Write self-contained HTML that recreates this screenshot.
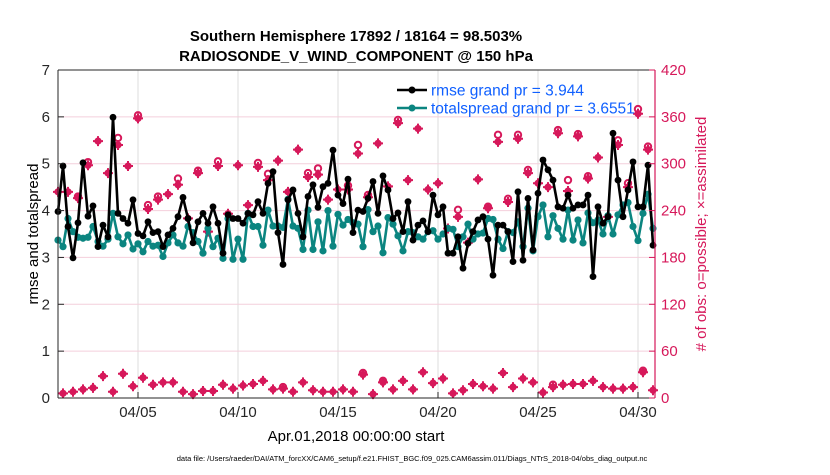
<!DOCTYPE html>
<html><head><meta charset="utf-8">
<style>
body{margin:0;background:#fff;width:830px;height:470px;overflow:hidden;font-family:"Liberation Sans",Arial,sans-serif}
svg text{font-family:"Liberation Sans",Arial,sans-serif}
</style></head>
<body>
<svg id="chart" width="830" height="470" xmlns="http://www.w3.org/2000/svg">
<text x="356" y="41" text-anchor="middle" font-size="15" font-weight="bold">Southern Hemisphere 17892 / 18164 = 98.503%</text>
<text x="356" y="61" text-anchor="middle" font-size="15" font-weight="bold">RADIOSONDE_V_WIND_COMPONENT @ 150 hPa</text>
<g id="grid"></g>
<g id="marks"></g>
<g id="axes"></g>
<text transform="translate(38,234) rotate(-90)" text-anchor="middle" font-size="15">rmse and totalspread</text>
<text transform="translate(706,234) rotate(-90)" text-anchor="middle" font-size="15" fill="#d6185a"># of obs: o=possible; ×=assimilated</text>
<text x="356" y="441" text-anchor="middle" font-size="15">Apr.01,2018 00:00:00 start</text>
<text x="412" y="461" text-anchor="middle" font-size="7.5">data file: /Users/raeder/DAI/ATM_forcXX/CAM6_setup/f.e21.FHIST_BGC.f09_025.CAM6assim.011/Diags_NTrS_2018-04/obs_diag_output.nc</text>
<g id="legend"></g>
</svg>
<script>
const xTickLabels = ["04/05","04/10","04/15","04/20","04/25","04/30"];
const xTickDays = [4,9,14,19,24,29];
const yLeftTicks = [0,1,2,3,4,5,6,7];
const yRightTicks = [0,60,120,180,240,300,360,420];
const rmse = [3.98,4.95,3.66,2.99,3.74,5.02,3.88,4.10,3.23,3.69,3.44,5.99,3.94,3.83,3.73,4.23,3.51,3.46,3.76,3.53,3.55,3.23,3.48,3.62,3.87,4.28,3.83,3.31,3.76,3.94,3.73,4.08,3.73,3.09,3.91,3.83,3.83,3.73,3.94,3.91,
4.19,3.94,4.58,4.83,3.53,2.85,4.23,4.44,3.94,3.44,4.30,4.55,4.07,4.51,4.58,5.29,4.33,4.15,4.67,3.53,4.01,3.98,4.26,4.62,3.94,4.74,4.44,3.83,3.95,3.55,4.19,3.37,3.69,3.78,3.55,4.33,3.91,4.08,3.09,
3.09,3.44,2.77,3.30,3.55,3.80,3.87,3.39,2.62,3.69,3.69,3.55,2.91,4.40,2.94,4.26,3.16,4.37,5.08,4.87,4.65,4.08,4.05,4.33,4.05,4.12,4.12,4.33,2.59,4.08,3.73,3.87,5.65,4.65,3.87,4.44,5.04,4.08,4.08,4.97,3.26];
const totalspread = [3.37,3.23,3.83,3.55,3.43,3.41,3.43,3.66,3.34,3.24,3.39,3.94,3.44,3.29,3.48,3.18,3.29,3.12,3.34,3.24,3.26,3.02,3.31,3.48,3.31,3.24,3.66,3.53,3.34,3.09,3.62,3.23,3.41,2.98,3.83,2.96,3.39,2.96,3.94,3.66,
3.66,3.26,4.01,3.67,3.67,3.64,4.24,3.67,3.62,3.17,4.01,3.17,3.76,3.14,4.00,3.24,3.92,3.69,3.81,3.74,3.71,3.23,4.02,3.55,3.67,3.10,3.85,3.71,3.46,3.14,3.55,3.53,3.44,3.39,3.55,3.57,3.39,3.50,3.62,
3.60,3.23,3.44,3.71,3.39,3.50,3.52,3.83,3.81,3.39,3.19,3.55,3.53,3.76,3.23,4.05,3.14,3.87,4.12,3.44,3.89,3.62,3.39,4.01,3.37,3.80,3.31,3.95,3.74,3.80,3.50,3.89,3.50,3.91,4.12,4.17,3.66,3.36,3.94,4.35,3.62];
// obs counts at even steps (00Z/12Z) and odd steps
const assimEven = [264,264,256,298,329,288,324,297,358,242,254,261,273,230,288,213,297,236,298,247,296,279,304,264,318,283,286,254,267,267,313,257,326,271,352,279,345,267,275,217,232,199,280,243,328,251,332,288,275,270,339,265,335,281,308,232,324,270,364,318];
const possEven = [264,264,258,302,329,288,333,297,362,247,258,261,281,230,291,213,303,236,298,247,301,287,304,264,318,288,294,254,267,272,324,260,326,271,356,279,345,267,275,217,241,199,280,245,337,255,337,292,275,270,343,279,338,284,308,232,330,275,370,322];
const assimOdd = [6,8,11,13,28,8,31,15,26,17,20,20,8,5,9,9,17,12,16,18,22,11,12,8,20,10,8,8,11,8,30,5,20,11,22,11,33,19,25,6,10,18,15,12,32,14,25,20,7,14,17,18,18,22,14,12,12,14,33,10];
const possOdd = [6,8,11,13,28,8,31,15,26,17,20,20,8,5,9,9,17,12,16,18,22,11,14,8,20,10,8,8,11,8,32,5,22,11,22,11,33,19,25,6,10,18,15,12,32,14,25,20,7,17,17,18,18,22,14,12,12,14,35,10];

const NS="http://www.w3.org/2000/svg";
const L=58,R=655,T=70,B=398;
const x = d => L + (d/29.85)*(R-L);
const yl = v => B - v/7*(B-T);
const yr = c => B - c/420*(B-T);
const stepDay = i => i*0.25;
function mk(tag, attrs, parent){const e=document.createElementNS(NS,tag);for(const k in attrs)e.setAttribute(k,attrs[k]);parent.appendChild(e);return e;}
const grid=document.getElementById('grid'), marks=document.getElementById('marks'), axes=document.getElementById('axes');

xTickDays.forEach((d,k)=>{
  const g=mk('line',{x1:x(d),x2:x(d),y1:T,y2:B,stroke:'#dcdcdc','stroke-width':1},grid);
  
  
});
yRightTicks.forEach(c=>{
  if(c===0||c===420)return;
  const g=mk('line',{x1:L,x2:R,y1:yr(c),y2:yr(c),stroke:'#f4cfdc','stroke-width':1},grid);
  
  
});

const PINK='#d6185a';
function obsMark(d,a,p){
  const cx=x(d);
  if(p>a+1){
    const o=mk('circle',{cx:cx,cy:yr(p),r:3.2,fill:'none',stroke:PINK,'stroke-width':2},marks);
    
    
  }
  const g=mk('g',{},marks);
  
  
  const cy=yr(a);
  mk('circle',{cx:cx,cy:cy,r:3.6,fill:PINK},g);
  mk('path',{d:`M${cx-5} ${cy}H${cx+5}M${cx} ${cy-5}V${cy+5}`,stroke:PINK,'stroke-width':2},g);
}
assimEven.forEach((a,k)=>obsMark(stepDay(2*k),a,possEven[k]));
assimOdd.forEach((a,k)=>obsMark(stepDay(2*k+1),a,possOdd[k]));

function series(vals,color,name,r){
  const pts=vals.map((v,i)=>x(stepDay(i)).toFixed(1)+','+yl(v).toFixed(1)).join(' ');
  const pl=mk('polyline',{points:pts,fill:'none',stroke:color,'stroke-width':2.6,'stroke-linejoin':'round'},marks);
  
  
  vals.forEach((v,i)=>{
    const c=mk('circle',{cx:x(stepDay(i)),cy:yl(v),r:r,fill:color},marks);
    
    
  });
}
series(totalspread,'#0b8580','totalspread',3.6);
series(rmse,'#000000','rmse',3.4);

const la=mk('line',{x1:L,x2:L,y1:T,y2:B,stroke:'#262626','stroke-width':1},axes);

const ba=mk('line',{x1:L,x2:R,y1:B,y2:B,stroke:'#262626','stroke-width':1},axes);

const ta=mk('line',{x1:L,x2:R,y1:T,y2:T,stroke:'#262626','stroke-width':1},axes);

const ra=mk('line',{x1:R,x2:R,y1:T,y2:B,stroke:PINK,'stroke-width':1.2},axes);

yLeftTicks.forEach(v=>{
  mk('line',{x1:L,x2:L+6,y1:yl(v),y2:yl(v),stroke:'#262626'},axes);
  const t=mk('text',{x:L-8,y:yl(v)+5,'text-anchor':'end','font-size':15,fill:'#262626'},axes);
  t.textContent=v;
  
  
});
yRightTicks.forEach(c=>{
  mk('line',{x1:R-6,x2:R,y1:yr(c),y2:yr(c),stroke:PINK},axes);
  const t=mk('text',{x:R+6,y:yr(c)+5,'text-anchor':'start','font-size':15,fill:PINK},axes);
  t.textContent=c;
  
  
});
xTickDays.forEach((d,k)=>{
  mk('line',{x1:x(d),x2:x(d),y1:B-6,y2:B,stroke:'#262626'},axes);
  const t=mk('text',{x:x(d),y:B+19,'text-anchor':'middle','font-size':15,fill:'#262626'},axes);
  t.textContent=xTickLabels[k];
  
  
});

const lg=document.getElementById('legend');
[['rmse grand pr = 3.944','#000000',90,'legend-entry-rmse'],['totalspread grand pr = 3.6551','#0b8580',108,'legend-entry-totalspread']].forEach(e=>{
  const g=mk('g',{},lg);
  
  
  mk('line',{x1:397,x2:427,y1:e[2],y2:e[2],stroke:e[1],'stroke-width':2.6},g);
  mk('circle',{cx:412,cy:e[2],r:3.5,fill:e[1]},g);
  const t=mk('text',{x:431,y:e[2]+5.5,'font-size':15.5,fill:'#1060ff'},g);
  t.textContent=e[0];
});
</script>
</body></html>
